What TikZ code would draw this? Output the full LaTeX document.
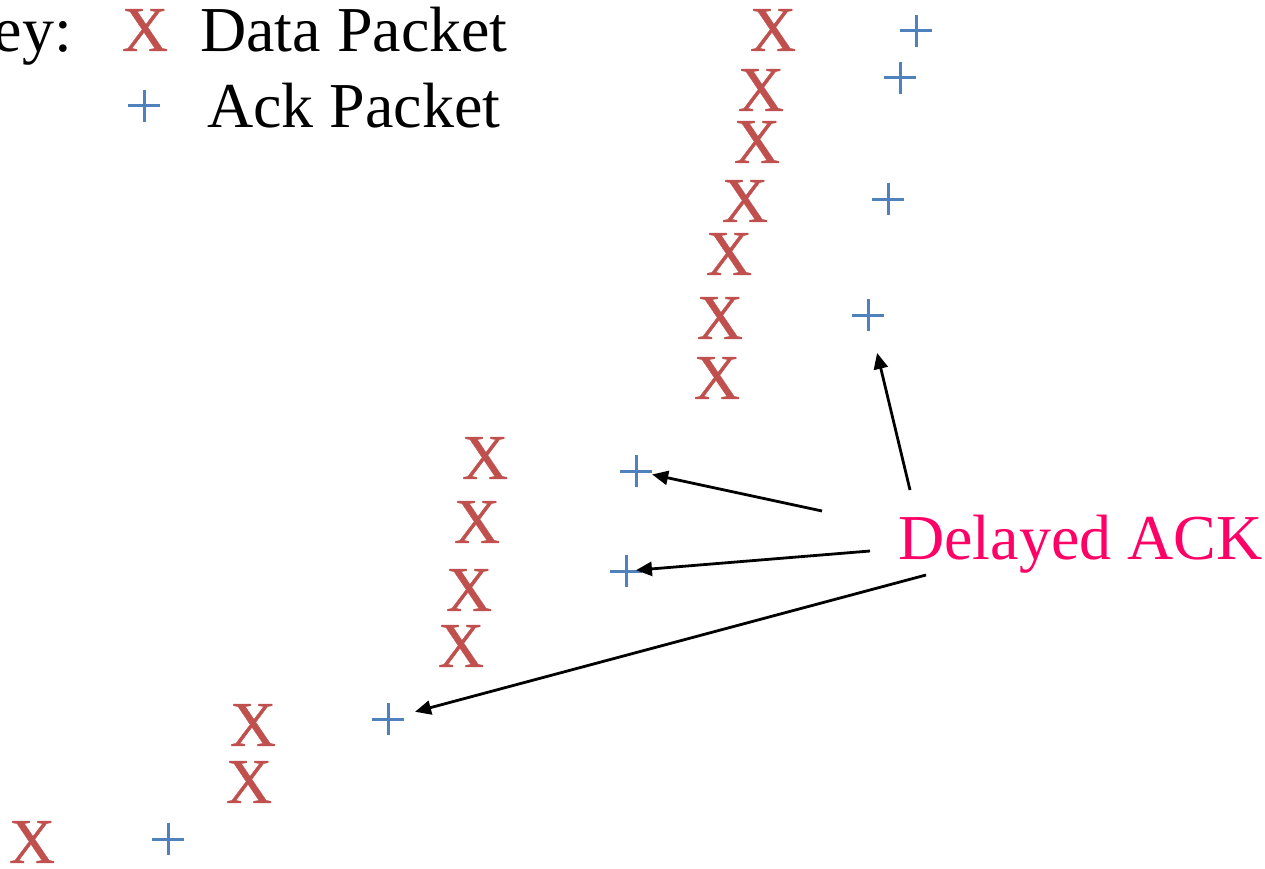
\documentclass[tikz,border=0pt]{standalone}
\usepackage{fontspec}
\setmainfont{Liberation Serif}
\newfontfamily\heavyxfont{Liberation Serif}[FakeBold=0.6]
\usetikzlibrary{arrows.meta}
\definecolor{datared}{HTML}{C0504D}
\definecolor{ackblue}{HTML}{4F81BD}
\definecolor{lblpink}{HTML}{FF0066}
\tikzset{
  bigtext/.style={font=\fontsize{64}{70}\selectfont, inner sep=0pt},
  datapkt/.style={font=\heavyxfont\fontsize{64}{70}\selectfont, inner sep=0pt, text=datared},
  ackpkt/.style={minimum size=32pt, inner sep=0pt,
    path picture={\draw[ackblue, line width=3pt]
      (path picture bounding box.north) -- (path picture bounding box.south)
      (path picture bounding box.west) -- (path picture bounding box.east);}},
  callout/.style={line width=2.8pt, -{Triangle[length=16pt,width=14pt]}},
}
\begin{document}
\begin{tikzpicture}[x=1pt,y=-1pt]
\useasboundingbox (0,0) rectangle (1265,869);
% key
\node[bigtext, anchor=base east] (keylbl) at (72,52) {Key:};
\node[datapkt] (keyx) at (145,30) {X};
\node[bigtext, anchor=base west] (keydata) at (200,52) {Data Packet};
\node[ackpkt] (keyplus) at (144,106) {};
\node[bigtext, anchor=base west] (keyack) at (207,128) {Ack Packet};
% top right group
\node[datapkt] (x1) at (773,30) {X};
\node[datapkt] (x2) at (761,90) {X};
\node[datapkt] (x3) at (757,142) {X};
\node[datapkt] (x4) at (745,201) {X};
\node[datapkt] (x5) at (729,254) {X};
\node[datapkt] (x6) at (720,318) {X};
\node[datapkt] (x7) at (717,378) {X};
\node[ackpkt] (p1) at (916,31) {};
\node[ackpkt] (p2) at (900,78) {};
\node[ackpkt] (p3) at (888,199) {};
\node[ackpkt] (p4) at (868,315) {};
% middle group
\node[datapkt] (x8) at (485,458) {X};
\node[datapkt] (x9) at (477,522) {X};
\node[datapkt] (x10) at (469,590) {X};
\node[datapkt] (x11) at (461,646) {X};
\node[ackpkt] (p5) at (636,471) {};
\node[ackpkt] (p6) at (626,571) {};
% bottom group
\node[datapkt] (x12) at (253,725) {X};
\node[datapkt] (x13) at (249,782) {X};
\node[datapkt] (x14) at (32,842) {X};
\node[ackpkt] (p7) at (388,719) {};
\node[ackpkt] (p8) at (168,839) {};
% label
\node[bigtext, text=lblpink, anchor=base west] (delayed) at (898,559) {Delayed ACK};
\coordinate (t1) at (910,490);
\coordinate (t2) at (822,511);
\coordinate (t3) at (870,551);
\coordinate (t4) at (926,575);
\draw[callout, shorten >=39pt] (t1) -- (p4.center);
\draw[callout, shorten >=16.5pt] (t2) -- (p5.center);
\draw[callout, shorten >=10pt] (t3) -- (p6.center);
\draw[callout, shorten >=28pt] (t4) -- (p7.center);
\end{tikzpicture}
\end{document}
